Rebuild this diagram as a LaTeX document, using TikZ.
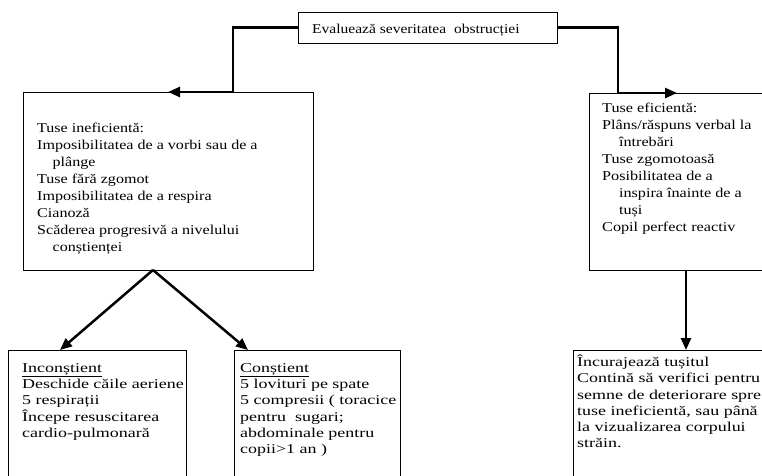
\documentclass[tikz,border=0pt]{standalone}
\usepackage{fontspec}
\usepackage{graphicx}
\setmainfont{Liberation Serif}
\usetikzlibrary{arrows.meta}
\newcommand\stx[2]{\scalebox{#1}[1]{\begin{tabular}{@{}l@{}}#2\end{tabular}}}
\begin{document}
\begin{tikzpicture}[x=1pt,y=-1pt,
  box/.style={draw=black, line width=0.8pt, inner sep=0pt, outer sep=0pt},
  txta/.style={anchor=north west, inner sep=0pt, font=\fontsize{13.5}{17}\selectfont},
  txtb/.style={anchor=north west, inner sep=0pt, font=\fontsize{13.5}{16.3}\selectfont},
  conn/.style={line width=2.5pt, -{Triangle[length=12pt,width=10pt]}}
]
\useasboundingbox (0,0) rectangle (762,475);
\clip (0,0) rectangle (762,475);

% boxes
\node[box, minimum width=259pt, minimum height=31pt] (top) at (427.5,27.5) {};
\node[box, minimum width=290pt, minimum height=178pt] (b1) at (168,181) {};
\node[box, minimum width=176pt, minimum height=177pt] (b2) at (677,181.5) {};
\node[box, minimum width=178pt, minimum height=140pt] (b4) at (97,420) {};
\node[box, minimum width=166pt, minimum height=140pt] (b5) at (317,420) {};
\node[box, minimum width=192pt, minimum height=140pt] (b3) at (669,420) {};

% texts
\node[anchor=base west, inner sep=0pt, font=\fontsize{13.5}{17}\selectfont] (ttop) at (312,33) {\scalebox{1.15}[1]{Evaluează severitatea\ \ obstrucției}};

\node[txta] (t1) at (37,120.1) {\stx{1.19}{Tuse ineficientă:\\
Imposibilitatea de a vorbi sau de a\\
\hspace*{13pt}plânge\\
Tuse fără zgomot\\
Imposibilitatea de a respira\\
Cianoză\\
Scăderea progresivă a nivelului\\
\hspace*{13pt}conștienței}};

\node[txta] (t2) at (602,100.1) {\stx{1.2}{Tuse eficientă:\\
Plâns/răspuns verbal la\\
\hspace*{14pt}întrebări\\
Tuse zgomotoasă\\
Posibilitatea de a\\
\hspace*{14pt}inspira înainte de a\\
\hspace*{14pt}tuși\\
Copil perfect reactiv}};

\node[txtb] (t4) at (22,360.6) {\stx{1.33}{\underline{Inconștient}\\
Deschide căile aeriene\\
5 respirații\\
Începe resuscitarea\\
cardio-pulmonară}};

\node[txtb] (t5) at (240,360.6) {\stx{1.33}{\underline{Conștient}\\
5 lovituri pe spate\\
5 compresii ( toracice\\
pentru\ \ sugari;\\
abdominale pentru\\
copii>1 an )}};

\node[txtb] (t3) at (577,354.6) {\stx{1.33}{Încurajează tușitul\\
Contină să verifici pentru\\
semne de deteriorare spre\\
tuse ineficientă, sau până\\
la vizualizarea corpului\\
străin.}};

% connectors
\coordinate (kl) at (233,27.5);
\coordinate (kr) at (618,27.5);
\coordinate (dx) at (686,0);
\coordinate (apex) at (153,270);
\coordinate (a4) at (60,350);
\coordinate (a5) at (248,350);

\draw[conn] (top.west) -- (kl) |- (b1.north);
\draw[conn] (top.east) -- (kr) |- (b2.north);
\draw[conn] (b2.south -| dx) -- (b3.north -| dx);
\draw[conn] (apex) -- (a4);
\draw[conn] (apex) -- (a5);
\end{tikzpicture}
\end{document}
